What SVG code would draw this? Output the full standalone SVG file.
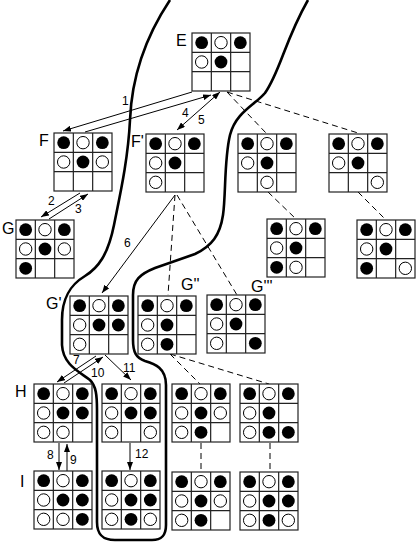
<svg xmlns="http://www.w3.org/2000/svg" xmlns:xlink="http://www.w3.org/1999/xlink" width="417" height="544" viewBox="0 0 417 544">
<style>
.lbl{font-family:"Liberation Sans",Arial,sans-serif;font-size:16px;fill:#000}
.num{font-family:"Liberation Sans",Arial,sans-serif;font-size:12px;fill:#000}
.ln{stroke:#000;stroke-width:1;fill:none}
.ds{stroke:#000;stroke-width:1;fill:none;stroke-dasharray:6,4}
.bd{fill:#fff;stroke:#222;stroke-width:1.2}
</style>
<defs>
<marker id="ah" viewBox="0 0 8 6" refX="8" refY="3" markerWidth="8" markerHeight="6" markerUnits="userSpaceOnUse" orient="auto-start-reverse"><path d="M0,0 L8,3 L0,6 z" fill="#000"/></marker>
<g id="grid"><rect class="bd" x="0" y="0" width="58" height="58"/><path d="M19.33 0V58M38.67 0V58M0 19.33H58M0 38.67H58" stroke="#222" stroke-width="1.2" fill="none"/></g>
<circle id="k" r="6.4" fill="#000"/>
<circle id="o" r="6.2" fill="#fff" stroke="#000" stroke-width="1"/>
<g id="top"><use href="#grid"/><use href="#k" x="9.67" y="9.67"/><use href="#o" x="29" y="9.67"/><use href="#k" x="48.33" y="9.67"/><use href="#o" x="9.67" y="29"/><use href="#k" x="29" y="29"/></g>
</defs>
<rect width="417" height="544" fill="#fff"/>
<path id="boundary" d="M170,0 C150,30 132,70 130,120 C128,160 120,195 114,225 C108,255 98,268 85,276 C70,285 62,298 62,320 L62,345 C63,365 80,372 90,380 C96,386 97,395 97,410 L97,522 C97,535 103,540 115,540 L152,540 C162,540 166,535 166,525 L166,385 C166,368 155,364 145,361 C136,358 133,352 133,340 L133,295 C133,280 140,274 155,268 L195,254 C212,246 220,235 223,215 C226,195 224,160 230,135 C236,112 255,105 265,93 C280,72 285,40 308,0" fill="none" stroke="#000" stroke-width="2.6"/>
<g id="connectors">
<path class="ln" d="M192,92 L63,131" marker-end="url(#ah)"/>
<path class="ln" d="M85,132 L211,95" marker-end="url(#ah)"/>
<path class="ln" d="M220,92 L177,130" marker-start="url(#ah)" marker-end="url(#ah)"/>
<path class="ln" d="M80,193 L41,217" marker-end="url(#ah)"/>
<path class="ln" d="M49,219 L88,194" marker-end="url(#ah)"/>
<path class="ln" d="M175,195 L102,293" marker-end="url(#ah)"/>
<path class="ds" d="M175,195 L168,295"/>
<path class="ds" d="M177,195 L237,295"/>
<path class="ds" d="M227,92 L266,133"/>
<path class="ds" d="M227,92 L358,133"/>
<path class="ds" d="M268,192 L296,219"/>
<path class="ds" d="M358,192 L386,220"/>
<path class="ln" d="M96,356 L57,382" marker-end="url(#ah)"/>
<path class="ln" d="M64,383 L103,357" marker-end="url(#ah)"/>
<path class="ln" d="M105,355 L131,380" marker-end="url(#ah)"/>
<path class="ds" d="M170,354 L200,384"/>
<path class="ds" d="M170,354 L269,384"/>
<path class="ln" d="M59,443 L59,470" marker-end="url(#ah)"/>
<path class="ln" d="M67,471 L67,444" marker-end="url(#ah)"/>
<path class="ln" d="M130,443 L130,470" marker-end="url(#ah)"/>
<path class="ds" d="M201,443 L201,472"/>
<path class="ds" d="M270,443 L270,472"/>
<text class="num" x="122" y="105">1</text>
<text class="num" x="48" y="205">2</text>
<text class="num" x="75" y="213">3</text>
<text class="num" x="182" y="117">4</text>
<text class="num" x="198" y="124">5</text>
<text class="num" x="124" y="247">6</text>
<text class="num" x="73" y="364">7</text>
<text class="num" x="91" y="377">10</text>
<text class="num" x="123" y="372">11</text>
<text class="num" x="47" y="459">8</text>
<text class="num" x="70" y="464">9</text>
<text class="num" x="135" y="458">12</text>
</g>
<g id="E"><text class="lbl" x="176" y="46">E</text><g transform="translate(192,33)"><use href="#top"/></g></g>
<g id="F"><text class="lbl" x="39" y="146">F</text><g transform="translate(54,133)"><use href="#top"/><use href="#o" x="48.33" y="29"/></g></g>
<g id="F1"><text class="lbl" x="131" y="147">F'</text><g transform="translate(146,134)"><use href="#top"/><use href="#o" x="9.67" y="48.33"/></g></g>
<g id="F2"><g transform="translate(238,134)"><use href="#top"/><use href="#o" x="29" y="48.33"/></g></g>
<g id="F3"><g transform="translate(329,134)"><use href="#top"/><use href="#o" x="48.33" y="48.33"/></g></g>
<g id="G"><text class="lbl" x="2" y="234">G</text><g transform="translate(16,220)"><use href="#top"/><use href="#o" x="48.33" y="29"/><use href="#k" x="9.67" y="48.33"/></g></g>
<g id="G4"><g transform="translate(267,219)"><use href="#top"/><use href="#k" x="9.67" y="48.33"/><use href="#o" x="29" y="48.33"/></g></g>
<g id="G5"><g transform="translate(357,220)"><use href="#top"/><use href="#k" x="9.67" y="48.33"/><use href="#o" x="48.33" y="48.33"/></g></g>
<g id="G1"><text class="lbl" x="46" y="309">G'</text><g transform="translate(70,296)"><use href="#top"/><use href="#k" x="48.33" y="29"/><use href="#o" x="9.67" y="48.33"/></g></g>
<g id="G2"><text class="lbl" x="181" y="290">G''</text><g transform="translate(138,296)"><use href="#top"/><use href="#o" x="9.67" y="48.33"/><use href="#k" x="29" y="48.33"/></g></g>
<g id="G3"><text class="lbl" x="251" y="292">G'''</text><g transform="translate(207,295)"><use href="#top"/><use href="#o" x="9.67" y="48.33"/><use href="#k" x="48.33" y="48.33"/></g></g>
<g id="H"><text class="lbl" x="15" y="397">H</text><g transform="translate(34,384)"><use href="#top"/><use href="#k" x="48.33" y="29"/><use href="#o" x="9.67" y="48.33"/><use href="#o" x="29" y="48.33"/></g></g>
<g id="H2"><g transform="translate(102,384)"><use href="#top"/><use href="#k" x="48.33" y="29"/><use href="#o" x="9.67" y="48.33"/><use href="#o" x="48.33" y="48.33"/></g></g>
<g id="H3"><g transform="translate(172,384)"><use href="#top"/><use href="#o" x="48.33" y="29"/><use href="#o" x="9.67" y="48.33"/><use href="#k" x="29" y="48.33"/></g></g>
<g id="H4"><g transform="translate(240,384)"><use href="#top"/><use href="#o" x="9.67" y="48.33"/><use href="#k" x="29" y="48.33"/><use href="#k" x="48.33" y="48.33"/></g></g>
<g id="I"><text class="lbl" x="20" y="487">I</text><g transform="translate(34,471)"><use href="#top"/><use href="#k" x="48.33" y="29"/><use href="#o" x="9.67" y="48.33"/><use href="#o" x="29" y="48.33"/><use href="#k" x="48.33" y="48.33"/></g></g>
<g id="I2"><g transform="translate(102,471)"><use href="#top"/><use href="#k" x="48.33" y="29"/><use href="#o" x="9.67" y="48.33"/><use href="#k" x="29" y="48.33"/><use href="#o" x="48.33" y="48.33"/></g></g>
<g id="I3"><g transform="translate(172,472)"><use href="#top"/><use href="#o" x="48.33" y="29"/><use href="#o" x="9.67" y="48.33"/><use href="#k" x="29" y="48.33"/></g></g>
<g id="I4"><g transform="translate(240,472)"><use href="#top"/><use href="#k" x="48.33" y="29"/><use href="#o" x="9.67" y="48.33"/><use href="#k" x="29" y="48.33"/><use href="#o" x="48.33" y="48.33"/></g></g>
</svg>
